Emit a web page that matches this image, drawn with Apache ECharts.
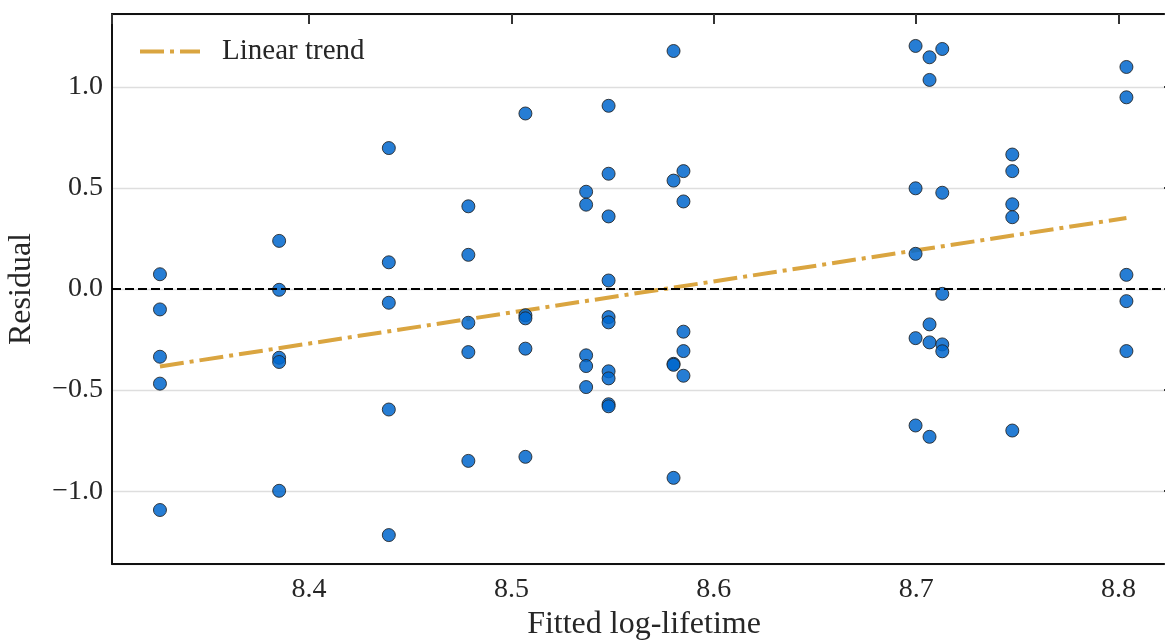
<!DOCTYPE html>
<html>
<head>
<meta charset="utf-8">
<script src="https://cdn.jsdelivr.net/npm/echarts@6/dist/echarts.min.js"></script>
<style>
  html, body { margin: 0; padding: 0; background: #fff; }
  #chart { width: 1165px; height: 640px; }
</style>
</head>
<body>
<div id="chart"></div>
<script>
// Fitted log-lifetime value of each group of points
const groupX = [8.3263, 8.3852, 8.4394, 8.4787, 8.5069, 8.5369, 8.5480, 8.5801, 8.5850, 8.6997, 8.7066, 8.7129, 8.7475, 8.8039];
// Residuals for each group
const groupResiduals = [
  [0.073, -0.101, -0.335, -0.468, -1.093],
  [0.238, -0.004, -0.340, -0.361, -0.998],
  [0.697, 0.132, -0.068, -0.596, -1.217],
  [0.409, 0.169, -0.167, -0.312, -0.850],
  [0.868, -0.130, -0.145, -0.295, -0.830],
  [0.481, 0.417, -0.328, -0.381, -0.485],
  [0.906, 0.570, 0.359, 0.042, -0.139, -0.165, -0.407, -0.442, -0.570, -0.580],
  [1.177, 0.536, -0.370, -0.375, -0.934],
  [0.583, 0.433, -0.211, -0.307, -0.429],
  [1.202, 0.498, 0.174, -0.243, -0.675],
  [1.146, 1.034, -0.175, -0.264, -0.731],
  [1.187, 0.476, -0.024, -0.274, -0.308],
  [0.665, 0.583, 0.419, 0.355, -0.700],
  [1.098, 0.948, 0.070, -0.060, -0.307]
];
// Linear trend endpoints
const trendX = [8.3263, 8.8039];
const trendY = [-0.383, 0.351];
// Axis extents
const xRange = [8.3026, 8.8284];
const yRange = [-1.36, 1.36];

const points = [];
groupX.forEach((x, i) => groupResiduals[i].forEach(r => points.push([x, r])));
const trend = trendX.map((x, i) => [x, trendY[i]]);

const FONT = "'Liberation Serif', 'DejaVu Serif', serif";
const TXT = '#262626';
const fmt = v => (v < 0 ? '\u2212' : '') + Math.abs(v).toFixed(1);
const TREND_COLOR = '#DAA540';
const TREND_DASH = [24, 6, 4, 6];

const chart = echarts.init(document.getElementById('chart'), null, { renderer: 'canvas' });
chart.setOption({
  animation: false,
  backgroundColor: '#fff',
  grid: { left: 112, top: 14, right: -11, bottom: 76, containLabel: false, outerBoundsMode: 'none' },
  legend: {
    data: ['Linear trend'],
    left: 133, top: 32,
    itemWidth: 60, itemHeight: 12,
    itemStyle: { opacity: 0 },
    lineStyle: { color: TREND_COLOR, width: 4, type: TREND_DASH },
    textStyle: { fontFamily: FONT, fontSize: 29, color: TXT, padding: [0, 0, 0, 17] }
  },
  xAxis: [{
    type: 'value', position: 'bottom', min: xRange[0], max: xRange[1],
    axisLine: { show: true, onZero: false, lineStyle: { color: '#111', width: 2 } },
    axisTick: { show: false },
    splitLine: { show: false },
    axisLabel: { fontFamily: FONT, fontSize: 28, color: TXT, margin: 12, showMinLabel: false, showMaxLabel: false, formatter: fmt },
    name: 'Fitted log-lifetime', nameLocation: 'middle', nameGap: 45,
    nameTextStyle: { fontFamily: FONT, fontSize: 32, color: TXT }
  }, {
    type: 'value', position: 'top', min: xRange[0], max: xRange[1],
    axisLine: { show: true, onZero: false, lineStyle: { color: '#111', width: 2 } },
    axisTick: { show: true, inside: true, length: 10, lineStyle: { color: '#333', width: 2 } },
    splitLine: { show: false },
    axisLabel: { show: false }
  }],
  yAxis: [{
    type: 'value', position: 'left', min: yRange[0], max: yRange[1],
    axisLine: { show: true, onZero: false, lineStyle: { color: '#111', width: 2 } },
    axisTick: { show: false },
    splitLine: { show: true, lineStyle: { color: '#dedede', width: 1.3 } },
    axisLabel: { fontFamily: FONT, fontSize: 28, color: TXT, margin: 9, showMinLabel: false, showMaxLabel: false, formatter: fmt },
    name: 'Residual', nameLocation: 'middle', nameGap: 74, nameRotate: 90,
    nameTextStyle: { fontFamily: FONT, fontSize: 32, color: TXT }
  }, {
    type: 'value', position: 'right', min: yRange[0], max: yRange[1],
    axisLine: { show: true, onZero: false, lineStyle: { color: '#111', width: 2 } },
    axisTick: { show: true, inside: true, length: 12, lineStyle: { color: '#333', width: 2 } },
    splitLine: { show: false },
    axisLabel: { show: false }
  }],
  series: [{
    name: 'Linear trend', type: 'line', data: trend,
    xAxisIndex: 0, yAxisIndex: 0,
    symbol: 'none', z: 2,
    lineStyle: { color: TREND_COLOR, width: 4, type: TREND_DASH },
    itemStyle: { color: TREND_COLOR }
  }, {
    name: 'Residuals', type: 'scatter', data: points,
    xAxisIndex: 0, yAxisIndex: 0,
    symbol: 'circle', symbolSize: 13, z: 3,
    itemStyle: { color: '#0066cc', opacity: 0.85, borderColor: '#222', borderWidth: 1 },
    markLine: {
      silent: true, symbol: 'none', label: { show: false },
      lineStyle: { color: '#000', width: 2, type: [9, 4] },
      data: [{ yAxis: 0 }]
    }
  }]
});
</script>
</body>
</html>
